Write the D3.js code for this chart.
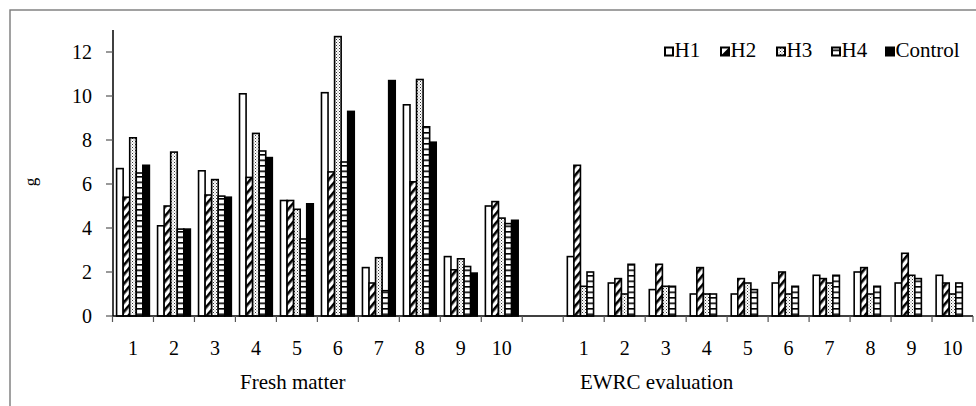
<!DOCTYPE html>
<html>
<head>
<meta charset="utf-8">
<script src="https://cdn.jsdelivr.net/npm/d3@7/dist/d3.min.js"></script>
<style>
  html, body { margin: 0; padding: 0; background: #fff; }
  svg, svg text { font-family: "Times New Roman", "Liberation Serif", Tinos, serif; }
</style>
</head>
<body>
<svg id="chart" width="976" height="406"></svg>
<script>
// ---------- data ----------
const categories = ["1","2","3","4","5","6","7","8","9","10"];
const groupNames = ["Fresh matter", "EWRC evaluation"];
const seriesNames = ["H1", "H2", "H3", "H4", "Control"];
const yTicks = [0, 2, 4, 6, 8, 10, 12];

const freshH1      = [6.7, 4.1, 6.6, 10.1, 5.25, 10.15, 2.2, 9.6, 2.7, 5.0];
const freshH2      = [5.4, 5.0, 5.5, 6.3, 5.25, 6.55, 1.5, 6.1, 2.1, 5.2];
const freshH3      = [8.1, 7.45, 6.2, 8.3, 4.85, 12.7, 2.65, 10.75, 2.6, 4.45];
const freshH4      = [6.5, 3.95, 5.45, 7.5, 3.5, 7.0, 1.15, 8.6, 2.25, 4.2];
const freshControl = [6.85, 3.95, 5.4, 7.2, 5.1, 9.3, 10.7, 7.9, 1.95, 4.35];

const ewrcH1 = [2.7, 1.5, 1.2, 1.0, 1.0, 1.5, 1.85, 2.0, 1.5, 1.85];
const ewrcH2 = [6.85, 1.7, 2.35, 2.2, 1.7, 2.0, 1.7, 2.2, 2.85, 1.5];
const ewrcH3 = [1.35, 1.0, 1.35, 1.0, 1.5, 1.0, 1.5, 1.0, 1.85, 1.0];
const ewrcH4 = [2.0, 2.35, 1.35, 1.0, 1.2, 1.35, 1.85, 1.35, 1.7, 1.5];

// ---------- build slots ----------
const slots = [];
categories.forEach((c, i) => slots.push({key: "F" + i, label: c, values: {H1: freshH1[i], H2: freshH2[i], H3: freshH3[i], H4: freshH4[i], Control: freshControl[i]}}));
slots.push({key: "gap", label: "", values: {}});
categories.forEach((c, i) => slots.push({key: "E" + i, label: c, values: {H1: ewrcH1[i], H2: ewrcH2[i], H3: ewrcH3[i], H4: ewrcH4[i]}}));

const FONT = '"Times New Roman", "Liberation Serif", Tinos, serif';
const svg = d3.select("#chart");

// ---------- patterns ----------
const defs = svg.append("defs");
const pH2 = defs.append("pattern").attr("id", "pH2").attr("patternUnits", "userSpaceOnUse")
  .attr("width", 6).attr("height", 6).attr("patternTransform", "rotate(40)");
pH2.append("rect").attr("width", 6).attr("height", 6).attr("fill", "#fff");
pH2.append("rect").attr("x", 0).attr("y", 0).attr("width", 2.6).attr("height", 6).attr("fill", "#000");

const pH3 = defs.append("pattern").attr("id", "pH3").attr("patternUnits", "userSpaceOnUse")
  .attr("width", 3).attr("height", 3);
pH3.append("rect").attr("width", 3).attr("height", 3).attr("fill", "#fff");
pH3.append("rect").attr("x", 0).attr("y", 0).attr("width", 1).attr("height", 1).attr("fill", "#333");
pH3.append("rect").attr("x", 1.5).attr("y", 1.5).attr("width", 1).attr("height", 1).attr("fill", "#777");

const pH4 = defs.append("pattern").attr("id", "pH4").attr("patternUnits", "userSpaceOnUse")
  .attr("width", 6).attr("height", 5.5);
pH4.append("rect").attr("width", 6).attr("height", 5.5).attr("fill", "#fff");
pH4.append("rect").attr("x", 0).attr("y", 0).attr("width", 6).attr("height", 1.6).attr("fill", "#000");

const fills = {H1: "#fff", H2: "url(#pH2)", H3: "url(#pH3)", H4: "url(#pH4)", Control: "#000"};

// ---------- frame ----------
svg.append("rect").attr("x", 10).attr("y", 10).attr("width", 990).attr("height", 420)
  .attr("fill", "none").attr("stroke", "#7a7a7a").attr("stroke-width", 1.4);

// ---------- scales ----------
const x = d3.scaleBand().domain(slots.map(s => s.key)).range([112.5, 973]).padding(0);
const xs = d3.scaleBand().domain(seriesNames).range([0, x.bandwidth()]).paddingInner(0).paddingOuter(0.625);
const y = d3.scaleLinear().domain([0, 13]).range([316, 30]);

// ---------- bars ----------
const bars = [];
slots.forEach(s => seriesNames.forEach(n => { if (s.values[n] !== undefined) bars.push({slot: s.key, series: n, v: s.values[n]}); }));
svg.append("g").selectAll("rect").data(bars).join("rect")
  .attr("x", d => x(d.slot) + xs(d.series))
  .attr("y", d => y(d.v))
  .attr("width", xs.bandwidth())
  .attr("height", d => y(0) - y(d.v))
  .attr("fill", d => fills[d.series])
  .attr("stroke", "#000")
  .attr("stroke-width", 1.6);

// ---------- y axis ----------
const gy = svg.append("g");
gy.append("line").attr("x1", 113).attr("x2", 113).attr("y1", y(13)).attr("y2", y(0))
  .attr("stroke", "#000").attr("stroke-width", 1.5);
gy.selectAll("line.t").data(yTicks).join("line").attr("class", "t")
  .attr("x1", 106).attr("x2", 113).attr("y1", d => y(d)).attr("y2", d => y(d))
  .attr("stroke", "#555").attr("stroke-width", 1.2);
gy.selectAll("text").data(yTicks).join("text")
  .attr("x", 92).attr("y", d => y(d)).attr("dy", "0.34em")
  .attr("text-anchor", "end").attr("font-size", 20).attr("font-family", FONT).attr("fill", "#000")
  .text(d => d);

// y label
svg.append("text").attr("transform", "translate(36,182) rotate(-90)")
  .attr("text-anchor", "middle").attr("font-size", 17).attr("font-family", FONT).text("g");

// ---------- x axis ----------
const gx = svg.append("g");
gx.append("line").attr("x1", x.range()[0]).attr("x2", x.range()[1]).attr("y1", y(0)).attr("y2", y(0))
  .attr("stroke", "#000").attr("stroke-width", 1.5);
const boundaries = slots.map(s => x(s.key)).concat([x.range()[1]]);
gx.selectAll("line.t").data(boundaries).join("line").attr("class", "t")
  .attr("x1", d => d).attr("x2", d => d).attr("y1", y(0)).attr("y2", y(0) + 6)
  .attr("stroke", "#555").attr("stroke-width", 1.2);
gx.selectAll("text.lab").data(slots.filter(s => s.label)).join("text").attr("class", "lab")
  .attr("x", d => x(d.key) + x.bandwidth() / 2).attr("y", 355)
  .attr("text-anchor", "middle").attr("font-size", 20).attr("font-family", FONT).text(d => d.label);

// group titles
const titlePos = [{name: groupNames[0], slot: "F4", off: 0.4}, {name: groupNames[1], slot: "E2", off: 0.28}];
svg.selectAll("text.title").data(titlePos).join("text").attr("class", "title")
  .attr("x", d => x(d.slot) + x.bandwidth() * d.off)
  .attr("y", 389).attr("text-anchor", "middle").attr("font-size", 21).attr("font-family", FONT)
  .text(d => d.name);

// ---------- legend ----------
const legendX = [665, 721, 777, 832, 886];
const lg = svg.append("g");
const items = lg.selectAll("g").data(seriesNames).join("g")
  .attr("transform", (d, i) => `translate(${legendX[i]},0)`);
items.append("rect").attr("x", 0).attr("y", 47.5).attr("width", 8).attr("height", 8)
  .attr("fill", d => d === "H2" ? "#fff" : fills[d])
  .attr("stroke", "#000").attr("stroke-width", 2);
items.filter(d => d === "H2").append("path").attr("d", "M0,55.5 L8,47.5 L8,55.5 Z").attr("fill", "#000");
items.append("text").attr("x", 9.5).attr("y", 57).attr("font-size", 21).attr("font-family", FONT).text(d => d);
</script>
</body>
</html>
